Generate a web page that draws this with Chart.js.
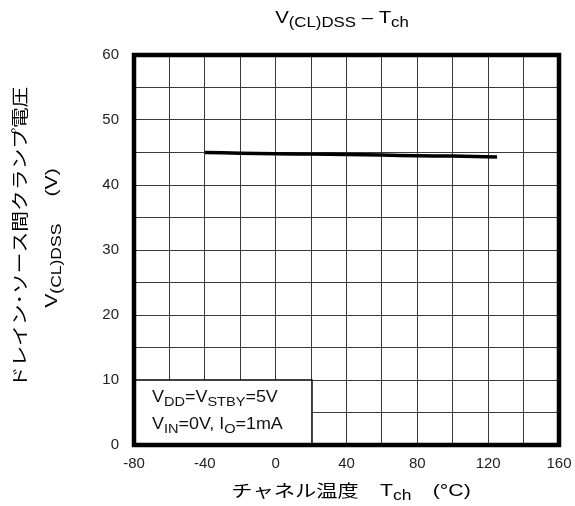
<!DOCTYPE html>
<html lang="ja">
<head>
<meta charset="utf-8">
<title>V(CL)DSS - Tch</title>
<script src="https://cdn.jsdelivr.net/npm/chart.js@4.4.0/dist/chart.umd.min.js"></script>
<style>
  html, body { margin: 0; padding: 0; background: #fff; }
  #wrap { width: 575px; height: 506px; }
</style>
</head>
<body>
<div id="wrap"><canvas id="c" width="575" height="506"></canvas></div>
<script>
// data
var tempC = [-40, -20, 0, 20, 40, 60, 80, 100, 125];
var vclDss = [45.0, 44.9, 44.8, 44.75, 44.7, 44.6, 44.5, 44.45, 44.3];
var xTicks = [-80, -40, 0, 40, 80, 120, 160];
var yTicks = [0, 10, 20, 30, 40, 50, 60];

var fontLat = "'Liberation Sans', Arial, sans-serif";
var fontJa = "'Noto Sans CJK JP', sans-serif";

// draws text pieces (some as subscripts), stretched sideways by sx
function richText(ctx, parts, x, y, size, align, sx) {
  var w = 0, i, subSize = size - 3;
  sx = sx || 1;
  for (i = 0; i < parts.length; i++) {
    ctx.font = (parts[i].sub ? subSize : size) + "px " + (parts[i].ja ? fontJa : fontLat);
    w += ctx.measureText(parts[i].t).width;
  }
  var start = align == "center" ? x - w * sx / 2 : x;
  ctx.save();
  ctx.translate(start, y);
  ctx.scale(sx, 1);
  ctx.textAlign = "left";
  ctx.textBaseline = "middle";
  var cx = 0;
  for (i = 0; i < parts.length; i++) {
    var p = parts[i];
    ctx.font = (p.sub ? subSize : size) + "px " + (p.ja ? fontJa : fontLat);
    ctx.fillText(p.t, cx, p.sub ? size * 0.3 : 0);
    cx += ctx.measureText(p.t).width;
  }
  ctx.restore();
}

var extras = {
  id: "extras",
  afterDatasetsDraw: function(chart) {
    var ctx = chart.ctx, a = chart.chartArea;
    var xs = chart.scales.x, ys = chart.scales.y;
    ctx.save();
    // condition box
    var bx0 = xs.getPixelForValue(-80), bx1 = xs.getPixelForValue(20.5);
    var by0 = ys.getPixelForValue(10), by1 = ys.getPixelForValue(0);
    ctx.fillStyle = "#fff";
    ctx.fillRect(bx0, by0, bx1 - bx0, by1 - by0);
    ctx.strokeStyle = "#000";
    ctx.lineWidth = 1.5;
    ctx.strokeRect(bx0, by0, bx1 - bx0, by1 - by0);
    ctx.fillStyle = "#111";
    richText(ctx, [{t:"V"},{t:"DD",sub:true},{t:"=V"},{t:"STBY",sub:true},{t:"=5V"}], bx0 + 18, by0 + 18, 16, "left", 1.12);
    richText(ctx, [{t:"V"},{t:"IN",sub:true},{t:"=0V, I"},{t:"O",sub:true},{t:"=1mA"}], bx0 + 18, by0 + 45, 16, "left", 1.12);
    // thick frame
    ctx.lineWidth = 4.5;
    ctx.strokeStyle = "#000";
    ctx.strokeRect(a.left, a.top, a.right - a.left, a.bottom - a.top);
    ctx.restore();
  },
  afterDraw: function(chart) {
    var ctx = chart.ctx;
    ctx.save();
    ctx.fillStyle = "#000";
    richText(ctx, [{t:"V"},{t:"(CL)DSS",sub:true},{t:" – T"},{t:"ch",sub:true}], 342, 18, 17, "center", 1.2);
    richText(ctx, [{t:"チャネル温度　",ja:true},{t:"T"},{t:"ch",sub:true},{t:"　(°C)"}], 351, 491, 17, "center", 1.25);
    ctx.translate(20, 237);
    ctx.rotate(-Math.PI / 2);
    richText(ctx, [{t:"ドレイン･ソース間クランプ電圧",ja:true}], 0, 0, 17, "center", 1.22);
    ctx.restore();
    ctx.save();
    ctx.fillStyle = "#000";
    ctx.translate(55, 238);
    ctx.rotate(-Math.PI / 2);
    richText(ctx, [{t:"V"},{t:"(CL)DSS",sub:true},{t:"　 (V)"}], 0, -3, 17, "center", 1.25);
    ctx.restore();
  }
};

new Chart(document.getElementById("c").getContext("2d"), {
  type: "line",
  data: {
    datasets: [{
      data: tempC.map(function(t, i) { return { x: t, y: vclDss[i] }; }),
      borderColor: "#000",
      borderWidth: 3.5,
      pointRadius: 0,
      tension: 0.3,
      fill: false
    }]
  },
  options: {
    responsive: false,
    animation: false,
    layout: { padding: { top: 55, right: 16, left: 0, bottom: 0 } },
    plugins: { legend: { display: false }, tooltip: { enabled: false } },
    scales: {
      x: {
        type: "linear",
        min: xTicks[0],
        max: xTicks[xTicks.length - 1],
        afterFit: function(s) { s.height = 61; s.paddingLeft = 0; s.paddingRight = 0; },
        border: { display: false },
        grid: { color: "#3a3a3a", lineWidth: 1, drawTicks: false },
        ticks: {
          stepSize: 20,
          padding: 10,
          maxRotation: 0,
          color: "#222",
          font: { family: fontLat, size: 15 },
          callback: function(v) { return xTicks.indexOf(v) >= 0 ? String(v) : ""; }
        }
      },
      y: {
        min: yTicks[0],
        max: yTicks[yTicks.length - 1],
        afterFit: function(s) { s.width = 134; },
        border: { display: false },
        grid: { color: "#3a3a3a", lineWidth: 1, drawTicks: false },
        ticks: {
          stepSize: 5,
          padding: 15,
          color: "#222",
          font: { family: fontLat, size: 15 },
          callback: function(v) { return yTicks.indexOf(v) >= 0 ? String(v) : ""; }
        }
      }
    }
  },
  plugins: [extras]
});
</script>
</body>
</html>
